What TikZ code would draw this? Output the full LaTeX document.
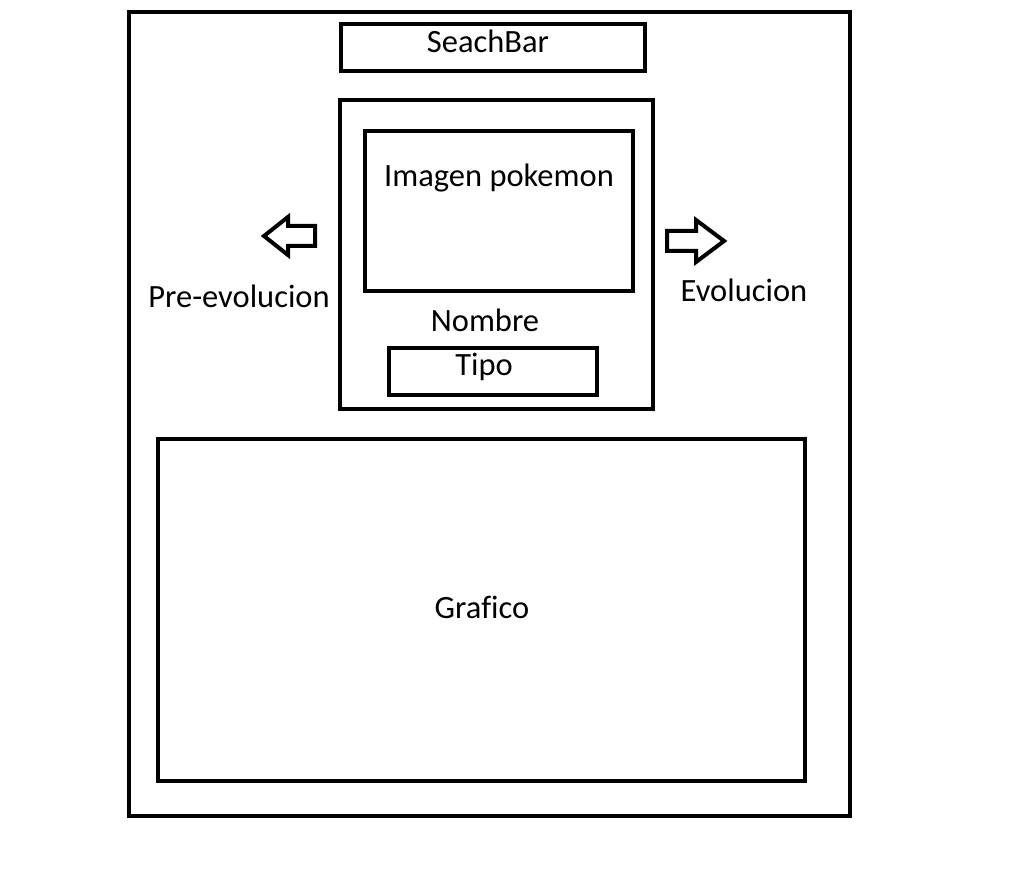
\documentclass[tikz,border=0pt]{standalone}
\usepackage{fontspec}
\setmainfont[Ligatures=NoCommon]{Carlito}
\usetikzlibrary{positioning}

\begin{document}
\begin{tikzpicture}
%Mockup of pokemon page
	[
	 	 %Styles
       x=1pt, y=-1pt,
       line width=4pt,
       box_node/.style={rectangle,draw=black,inner sep=0pt},
       label_simple/.style={rectangle,inner sep=0pt,anchor=base,font=\fontsize{32.5}{38}\selectfont},
       arrow_shape/.style={draw=black,line join=miter}
    ]
    \useasboundingbox (0,0) rectangle (1028,890);

    %Frames
    \draw[box_node] (129,12) rectangle (850,816);
    \draw[box_node] (341,24) rectangle (645,71);
    \draw[box_node] (340,100) rectangle (653,409);
    \draw[box_node] (365,131) rectangle (633,291);
    \draw[box_node] (389,348) rectangle (597,395);
    \draw[box_node] (158,439) rectangle (805,781);

    %Labels
    \node (searchbar) [label_simple] at (488,53) {SeachBar};
    \node (imagen) [label_simple] at (499,187) {Imagen pokemon};
    \node (nombre) [label_simple] at (485,332) {Nombre};
    \node (tipo) [label_simple] at (484,376) {Tipo};
    \node (preevo) [label_simple] at (239,308) {Pre-evolucion};
    \node (evo) [label_simple] at (744,302) {Evolucion};
    \node (grafico) [label_simple] at (482,618) {Grafico};

    %Arrows
    \draw[arrow_shape] (264,236) -- (288,217) -- (288,226) -- (315,226)
       -- (315,246) -- (288,246) -- (288,255) -- cycle;
    \draw[arrow_shape] (724,241) -- (696,220) -- (696,231) -- (667,231)
       -- (667,251) -- (696,251) -- (696,262) -- cycle;
\end{tikzpicture}
\end{document}
